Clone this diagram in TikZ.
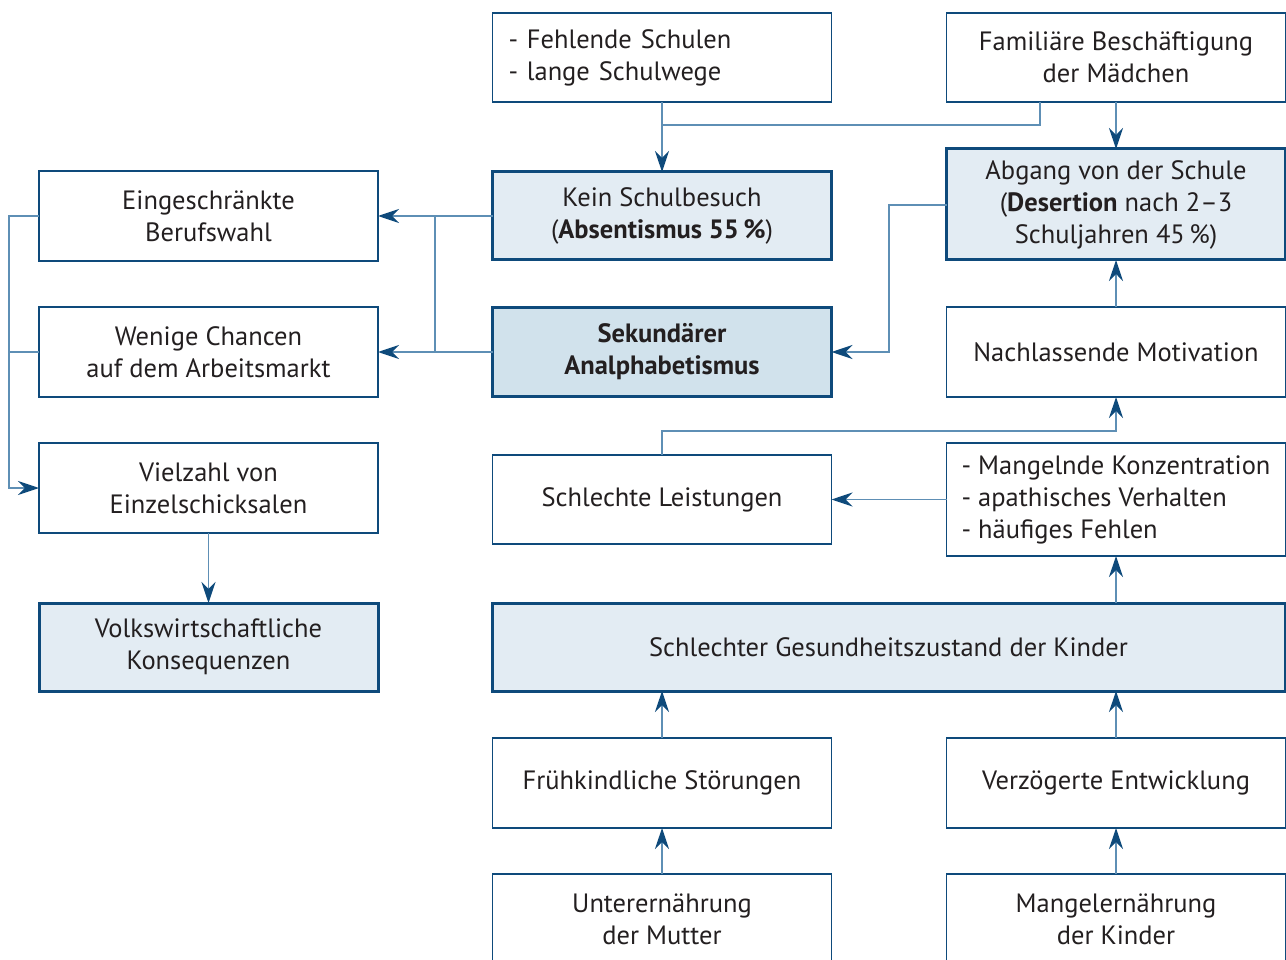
\documentclass[tikz,border=0pt]{standalone}
\usepackage{fontspec}
\setmainfont{PT Sans}
\usetikzlibrary{arrows.meta}
\definecolor{dblue}{HTML}{0E4A7B}
\definecolor{lblue}{HTML}{5E8FB5}
\definecolor{fillA}{HTML}{E3ECF3}
\definecolor{fillB}{HTML}{D1E2EC}
\definecolor{txt}{HTML}{231F20}
\tikzset{
  box/.style={draw=dblue, line width=1.3pt, inner sep=0pt, outer sep=0pt, align=center,
    text=txt, font=\fontsize{26.5}{32}\selectfont, minimum width=339pt},
  hbox/.style={box, line width=3pt, fill=fillA},
  conn/.style={draw=lblue, line width=1.4pt, -{Stealth[length=21pt,width=14pt,inset=7pt,color=dblue]}},
  line/.style={draw=lblue, line width=1.4pt},
}
\begin{document}
\begin{tikzpicture}[x=1pt,y=-1pt]
\useasboundingbox (0,0) rectangle (1286,960);
\clip (0,0) rectangle (1286,960);
% left column
\node[box, minimum height=90pt] (ein) at (208.5,216) {Eingeschränkte\\Berufswahl};
\node[box, minimum height=90pt] (wen) at (208.5,352) {Wenige Chancen\\auf dem Arbeitsmarkt};
\node[box, minimum height=90pt] (viel) at (208.5,488) {Vielzahl von\\Einzelschicksalen};
\node[hbox, minimum height=88pt] (volk) at (208.5,647) {Volkswirtschaftliche\\Konsequenzen};
% middle column
\node[box, minimum height=89pt, text width=307pt, align=left] (fehl) at (662,57.5) {- Fehlende Schulen\\- lange Schulwege};
\node[hbox, minimum height=88pt] (kein) at (662,216) {Kein Schulbesuch\\(\textbf{Absentismus 55\,\%})};
\node[hbox, fill=fillB, minimum height=88pt] (sek) at (662,352) {\textbf{Sekundärer}\\\textbf{Analphabetismus}};
\node[box, minimum height=89pt] (schl) at (662,499.5) {Schlechte Leistungen};
\node[hbox, minimum width=793pt, minimum height=88pt] (ges) at (888.5,647) {Schlechter Gesundheitszustand der Kinder};
\node[box, minimum height=90pt] (frueh) at (662,783) {Frühkindliche Störungen};
\node[box, minimum height=90pt] (unter) at (662,919) {Unterernährung\\der Mutter};
% right column
\node[box, minimum height=89pt] (fam) at (1116,57.5) {Familiäre Beschäftigung\\der Mädchen};
\node[hbox, minimum height=111pt] (abg) at (1116,204.5) {Abgang von der Schule\\(\textbf{Desertion} nach 2–3\\Schuljahren 45\,\%)};
\node[box, minimum height=90pt] (nach) at (1116,352) {Nachlassende Motivation};
\node[box, minimum height=113pt, align=left] (mang) at (1116,499.5) {- Mangelnde Konzentration\\- apathisches Verhalten\\- häufiges Fehlen};
\node[box, minimum height=90pt] (verz) at (1116,783) {Verzögerte Entwicklung};
\node[box, minimum height=90pt] (mger) at (1116,919) {Mangelernährung\\der Kinder};
% connectors
\coordinate (j1) at (1040,125);
\draw[conn] (fehl.south) -- (kein.north);
\draw[line] (fam.south -| j1) -- (j1) -- (j1 -| fehl.south);
\draw[conn] (fam.south) -- (abg.north);
\draw[conn] (kein.west) -- (ein.east);
\draw[conn] (sek.west) -- (wen.east);
\coordinate (j2) at (435,216);
\draw[line] (j2) -- (j2 |- sek.west);
\coordinate (j3) at (889,205);
\draw[conn] (j3 -| abg.west) -- (j3) -- (j3 |- sek.east) -- (sek.east);
\coordinate (j4) at (9,216);
\draw[conn] (ein.west) -- (j4) -- (j4 |- viel.west) -- (viel.west);
\draw[line] (wen.west) -- (wen.west -| j4);
\draw[conn] (viel.south) -- (volk.north);
\coordinate (j5) at (662,431);
\draw[conn] (schl.north) -- (j5) -- (j5 -| nach.south) -- (nach.south);
\draw[conn] (nach.north) -- (abg.south);
\draw[conn] (mang.west) -- (schl.east);
\draw[conn] (ges.north -| mang.south) -- (mang.south);
\draw[conn] (frueh.north) -- (frueh.north |- ges.south);
\draw[conn] (verz.north) -- (verz.north |- ges.south);
\draw[conn] (unter.north) -- (frueh.south);
\draw[conn] (mger.north) -- (verz.south);
\end{tikzpicture}
\end{document}
